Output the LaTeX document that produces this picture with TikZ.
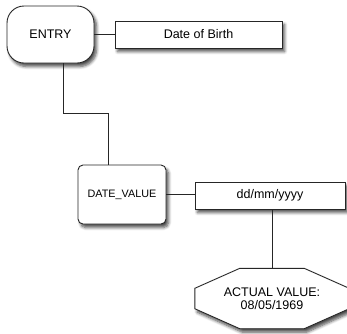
\documentclass[tikz,border=0pt]{standalone}
\usepackage{fontspec}
\setmainfont{Liberation Sans}
\usetikzlibrary{shadows,shadows.blur,calc}
\begin{document}
\begin{tikzpicture}[x=1pt,y=-1pt,
  shad/.style={blur shadow={shadow xshift=2.5pt,shadow yshift=-3.5pt,shadow blur radius=3pt,shadow blur steps=6,shadow opacity=70}},
  box/.style={draw=black!85, line width=0.9pt, fill=white, shad, inner sep=0pt, font=\fontsize{12.5}{13}\selectfont},
  link/.style={draw=black!85, line width=0.9pt}]
\useasboundingbox (0,0) rectangle (347,333);
% nodes
\node[box, rounded corners=17pt, minimum width=87pt, minimum height=57pt] (entry) at (50.5,34.5) {ENTRY};
\node[box, minimum width=167pt, minimum height=27pt] (dob) at (198.5,34.5) {Date of Birth};
\node[box, rounded corners=5pt, minimum width=88pt, minimum height=59pt, font=\fontsize{10.8}{12}\selectfont] (dv) at (122,194.5) {DATE\_VALUE};
\node[box, minimum width=150pt, minimum height=27pt] (dd) at (270,195.5) {dd/mm/yyyy};
% octagon
\node[inner sep=0pt, minimum width=154pt, minimum height=60pt] (oct) at (272,298.5) {};
\path[draw=black!85, line width=0.9pt, fill=white, shad]
  ([xshift=45pt]oct.north west) -- ([xshift=-45pt]oct.north east)
  -- ([yshift=-20pt]oct.north east) -- ([yshift=20pt]oct.south east)
  -- ([xshift=-45pt]oct.south east) -- ([xshift=45pt]oct.south west)
  -- ([yshift=20pt]oct.south west) -- ([yshift=-20pt]oct.north west) -- cycle;
\node[align=center, inner sep=0pt, font=\fontsize{12.5}{13}\selectfont] (octtext) at (oct.center) {ACTUAL VALUE:\\08/05/1969};
% connectors
\draw[link] (entry.east) -- (dob.west);
\draw[link] ([xshift=12.5pt]entry.south) -- ++(0,50) -| ([xshift=-14pt]dv.north);
\draw[link] (dv.east) -- (dv.east -| dd.west);
\draw[link] (dd.south -| oct.north) -- (oct.north);
\end{tikzpicture}
\end{document}
